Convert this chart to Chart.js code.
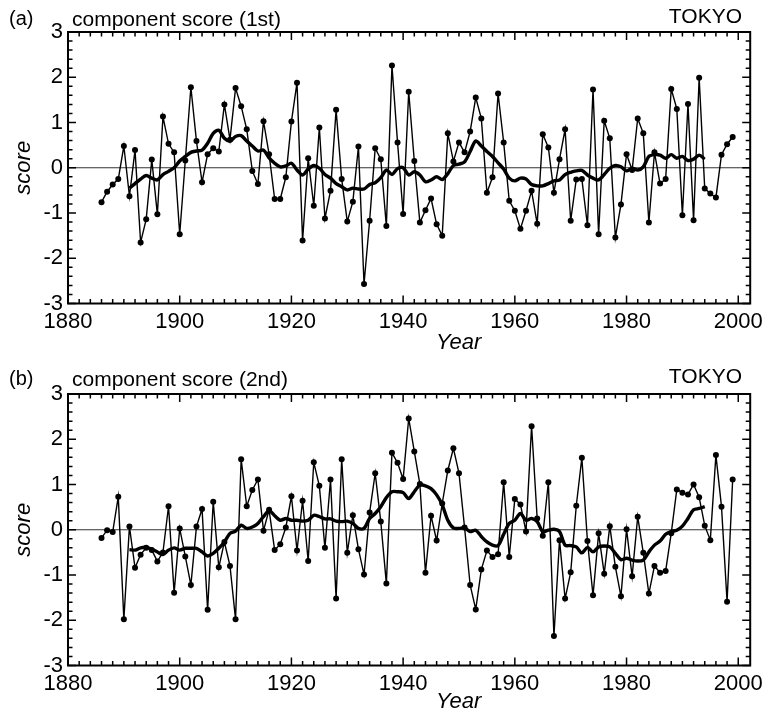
<!DOCTYPE html>
<html>
<head>
<meta charset="utf-8">
<script src="https://cdn.jsdelivr.net/npm/chart.js@4.4.0/dist/chart.umd.min.js"></script>
<style>
body{margin:0;background:#fff;}
#wrap{position:relative;width:768px;height:712px;overflow:hidden;font-family:"Liberation Sans",Arial,sans-serif;color:#000;}
canvas{position:absolute;left:0;}
.t{position:absolute;line-height:1;white-space:nowrap;}
</style>
</head>
<body>
<div id="wrap">
  <canvas id="chartA" width="768" height="350" style="top:0"></canvas>
  <canvas id="chartB" width="768" height="350" style="top:362px"></canvas>

  <div class="t" style="left:9px;top:8px;font-size:20px">(a)</div>
  <div class="t" style="left:72px;top:8px;font-size:21px">component score (1st)</div>
  <div class="t" style="right:26px;top:5px;font-size:21px">TOKYO</div>
  <div class="t" style="left:436px;top:331px;font-size:22px;font-style:italic">Year</div>

  <div class="t" style="left:9px;top:368px;font-size:20px">(b)</div>
  <div class="t" style="left:72px;top:368px;font-size:21px">component score (2nd)</div>
  <div class="t" style="right:26px;top:365px;font-size:21px">TOKYO</div>
  <div class="t" style="left:436px;top:690px;font-size:22px;font-style:italic">Year</div>
</div>
<script>
// yearly scores start in 1886, running means start in 1891
const firstYear = 1886;
const smoothStart = 1891;

const yearTicks = [1880, 1900, 1920, 1940, 1960, 1980, 2000];
const scoreTicks = [-3, -2, -1, 0, 1, 2, 3];

// 1st component score, 1886-1999
const scoreA = [
  -0.76,-0.53,-0.37,-0.25,0.48,-0.63,0.39,-1.65,-1.14,0.18,
  -1.03,1.13,0.53,0.34,-1.47,0.16,1.78,0.59,-0.32,0.30,
  0.43,0.36,1.40,0.62,1.76,1.36,0.85,-0.07,-0.36,1.03,
  0.30,-0.69,-0.69,-0.21,1.02,1.88,-1.61,0.21,-0.84,0.89,
  -1.12,-0.51,1.28,-0.25,-1.19,-0.75,0.47,-2.57,-1.17,0.43,
  0.19,-1.29,2.26,0.56,-1.02,1.68,0.15,-1.21,-0.94,-0.68,
  -1.25,-1.50,0.76,0.14,0.56,0.34,0.80,1.55,1.09,-0.55,
  -0.21,1.64,0.56,-0.73,-0.95,-1.35,-0.95,-0.51,-1.24,0.74,
  0.45,-0.55,0.19,0.85,-1.17,-0.26,-0.25,-1.27,1.73,-1.47,
  1.04,0.65,-1.54,-0.81,0.30,-0.05,1.09,0.76,-1.21,0.34,
  -0.35,-0.25,1.74,1.30,-1.05,1.41,-1.16,1.99,-0.46,-0.57,
  -0.66,0.29,0.52,0.68
];
// running mean of the 1st score, 1891-1994
const meanA = [
  -0.45,-0.35,-0.25,-0.17,-0.23,-0.27,-0.15,-0.08,0.00,0.15,
  0.25,0.34,0.37,0.39,0.54,0.76,0.83,0.65,0.59,0.69,
  0.71,0.59,0.48,0.37,0.39,0.22,0.10,0.02,0.04,0.10,
  -0.05,-0.16,-0.03,0.05,-0.01,-0.15,-0.23,-0.35,-0.42,-0.49,
  -0.45,-0.47,-0.47,-0.37,-0.33,-0.22,-0.05,-0.15,-0.02,0.00,
  -0.16,-0.09,-0.16,-0.31,-0.27,-0.20,-0.26,-0.13,0.05,0.08,
  0.13,0.36,0.59,0.48,0.36,0.25,0.11,-0.03,-0.23,-0.29,
  -0.23,-0.25,-0.37,-0.40,-0.40,-0.35,-0.29,-0.27,-0.15,-0.10,
  -0.07,-0.06,-0.16,-0.23,-0.27,-0.15,-0.01,0.05,0.02,-0.07,
  -0.01,-0.05,0.02,0.25,0.29,0.28,0.21,0.29,0.21,0.25,
  0.16,0.19,0.28,0.19
];

// 2nd component score, 1886-1999
const scoreB = [
  -0.18,-0.01,-0.05,0.73,-1.98,0.07,-0.84,-0.55,-0.40,-0.45,
  -0.70,-0.50,0.52,-1.39,0.03,-0.59,-1.22,0.07,0.46,-1.77,
  0.62,-0.83,-0.27,-0.80,-1.98,1.56,0.52,0.88,1.11,-0.02,
  0.44,-0.45,-0.32,0.05,0.74,-0.46,0.64,-0.69,1.49,0.97,
  -0.40,1.11,-1.52,1.56,-0.51,0.32,-0.43,-0.99,0.38,1.25,
  0.18,-1.19,1.70,1.48,1.12,2.46,1.73,1.01,-0.95,0.31,
  -0.24,0.58,1.31,1.80,1.25,0.05,-1.22,-1.76,-0.88,-0.46,
  -0.60,-0.54,1.05,-0.60,0.68,0.56,-0.04,2.29,0.25,-0.13,
  1.05,-2.35,-0.23,-1.52,-0.94,0.53,1.59,-0.25,-1.45,-0.08,
  -0.97,0.08,-0.82,-1.47,0.01,-1.03,0.29,-0.51,-1.41,-0.80,
  -0.95,-0.91,-0.08,0.89,0.82,0.78,1.00,0.72,0.09,-0.23,
  1.65,0.51,-1.59,1.11
];
// running mean of the 2nd score, 1891-1994
const meanB = [
  -0.44,-0.45,-0.40,-0.39,-0.43,-0.49,-0.55,-0.45,-0.40,-0.45,
  -0.41,-0.41,-0.41,-0.49,-0.58,-0.52,-0.41,-0.27,-0.08,-0.03,
  0.10,0.03,0.06,0.14,0.29,0.42,0.31,0.21,0.25,0.21,
  0.21,0.19,0.21,0.32,0.29,0.24,0.24,0.19,0.18,0.19,
  0.14,0.03,0.03,0.25,0.36,0.51,0.71,0.84,0.84,0.82,
  0.69,0.84,0.99,0.97,0.91,0.77,0.55,0.21,0.04,0.03,
  0.04,-0.04,-0.01,-0.15,-0.27,-0.34,-0.35,-0.10,0.14,0.21,
  0.36,0.21,0.25,0.18,-0.04,-0.01,0.01,-0.04,-0.34,-0.35,
  -0.38,-0.51,-0.39,-0.49,-0.38,-0.36,-0.38,-0.52,-0.66,-0.63,
  -0.67,-0.69,-0.67,-0.49,-0.34,-0.25,-0.10,-0.04,-0.01,0.08,
  0.25,0.44,0.47,0.51
];

const fontFam = '"Liberation Sans", Arial, sans-serif';

// box, zero line and inward ticks on all four sides
const framePlugin = {
  id: 'frame',
  beforeDatasetsDraw(chart){
    const {ctx, chartArea:a, scales:{y}} = chart;
    const y0 = y.getPixelForValue(0);
    ctx.save();
    ctx.strokeStyle = '#333';
    ctx.lineWidth = 1.1;
    ctx.beginPath();
    ctx.moveTo(a.left, y0);
    ctx.lineTo(a.right, y0);
    ctx.stroke();
    ctx.restore();
  },
  afterDraw(chart){
    const {ctx, chartArea:a, scales:{x, y}} = chart;
    ctx.save();
    ctx.strokeStyle = '#000';
    ctx.lineWidth = 1.5;
    ctx.beginPath();
    for(let yr = yearTicks[0]; yr <= yearTicks[yearTicks.length-1]; yr += 2){
      const px = x.getPixelForValue(yr);
      const len = yearTicks.includes(yr) ? 8 : 4.5;
      ctx.moveTo(px, a.bottom); ctx.lineTo(px, a.bottom - len);
      ctx.moveTo(px, a.top); ctx.lineTo(px, a.top + len);
    }
    for(let k = -15; k <= 15; k++){
      const py = y.getPixelForValue(k / 5);
      const len = k % 5 === 0 ? 8 : 4.5;
      ctx.moveTo(a.left, py); ctx.lineTo(a.left + len, py);
      ctx.moveTo(a.right, py); ctx.lineTo(a.right - len, py);
    }
    ctx.stroke();
    ctx.lineWidth = 2;
    ctx.strokeRect(a.left, a.top, a.right - a.left, a.bottom - a.top);
    ctx.restore();
  }
};

function makeChart(id, scores, means){
  const pts = scores.map((v, i) => ({x: firstYear + i, y: v}));
  const meanPts = means.map((v, i) => ({x: smoothStart + i, y: v}));
  return new Chart(document.getElementById(id).getContext('2d'), {
    type: 'line',
    data: {
      datasets: [
        {
          data: meanPts,
          borderColor: '#000',
          borderWidth: 3.4,
          pointRadius: 0,
          tension: 0.3
        },
        {
          data: pts,
          borderColor: '#000',
          borderWidth: 1.4,
          pointRadius: 3,
          pointBorderWidth: 0,
          pointBackgroundColor: '#000',
          tension: 0
        }
      ]
    },
    options: {
      responsive: false,
      animation: false,
      devicePixelRatio: 1,
      layout: {padding: {top: 32, right: 16, left: 0, bottom: 0}},
      plugins: {legend: {display: false}, tooltip: {enabled: false}},
      scales: {
        x: {
          type: 'linear',
          min: 1880,
          max: 2002.14,
          grid: {display: false, drawTicks: false},
          border: {display: false},
          afterBuildTicks: s => { s.ticks = yearTicks.map(v => ({value: v})); },
          afterFit: s => { s.height = 46.5; },
          ticks: {color: '#000', padding: 5, maxRotation: 0, autoSkip: false,
                  font: {size: 22, family: fontFam}, callback: v => String(v)}
        },
        y: {
          min: -3,
          max: 3,
          grid: {display: false, drawTicks: false},
          border: {display: false},
          afterBuildTicks: s => { s.ticks = scoreTicks.map(v => ({value: v})); },
          afterFit: s => { s.width = 68; },
          ticks: {color: '#000', padding: 5, autoSkip: false,
                  font: {size: 22, family: fontFam}, callback: v => String(v)},
          title: {display: true, text: 'score', color: '#000', padding: {top: 11, bottom: 0},
                  font: {size: 22, style: 'italic', family: fontFam}}
        }
      }
    },
    plugins: [framePlugin]
  });
}

makeChart('chartA', scoreA, meanA);
makeChart('chartB', scoreB, meanB);
</script>
</body>
</html>
